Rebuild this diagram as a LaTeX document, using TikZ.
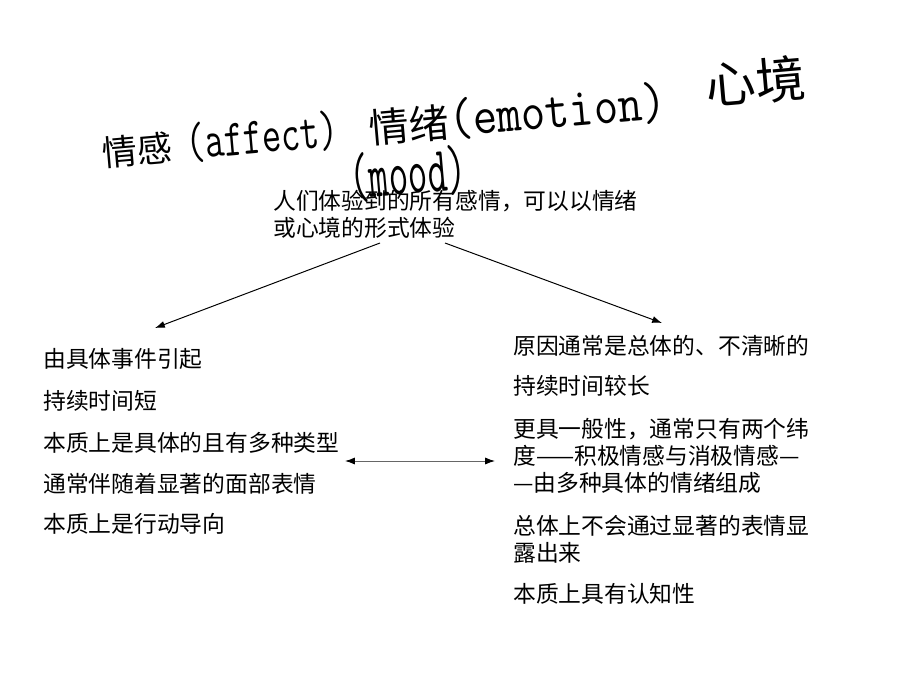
\documentclass[tikz,border=0pt]{standalone}
\usepackage{fontspec}
\setmainfont{Noto Sans CJK SC}
\usepackage{tikz}
\usetikzlibrary{arrows.meta}
\pgfdeclarelayer{bg}
\pgfsetlayers{bg,main}
\newcommand\bodysize{\fontsize{16.2}{19.2}\selectfont}

\begin{document}
\begin{tikzpicture}[x=0.025cm,y=-0.025cm,
        every node/.style={inner sep=0pt,anchor=base west,align=left,font=\bodysize},
        arr/.style={-{Latex[length=7pt,width=5pt]},line width=0.7pt}]
        \useasboundingbox (0,0) rectangle (920,690);
        % title, tilted
        \node (t1) [rotate=5] at (103,167) {\fontsize{24.9}{24.9}\selectfont 情感\hspace{10pt}{\ttfamily\fontsize{26.5}{26.5}\selectfont\scalebox{1}[1.4]{(affect)}}};
        \node (t2) [rotate=5] at (370,144) {\fontsize{28.5}{28.5}\selectfont 情绪{\ttfamily\fontsize{33.5}{33.5}\selectfont\scalebox{1}[1.15]{(emotion)}}};
        \node (t3) [rotate=5] at (707,105) {\fontsize{35.5}{35.5}\selectfont 心境};
        \node (t4) [rotate=5] at (351,199) {\ttfamily\fontsize{27}{27}\selectfont\scalebox{1}[1.7]{(mood)}};
        % common root (base = last line)
        \node (sum) at (273,236) {人们体验到的所有感情，可以以情绪\\或心境的形式体验};
        % emotion side
        \node (e1) at (43,367) {由具体事件引起};
        \node (e2) at (43,409) {持续时间短};
        \node (e3) at (43,451) {本质上是具体的且有多种类型};
        \node (e4) at (43,492) {通常伴随着显著的面部表情};
        \node (e5) at (43,532) {本质上是行动导向};
        % mood side
        \node (m1) at (513,354) {原因通常是总体的、不清晰的};
        \node (m2) at (513,394) {持续时间较长};
        \node (m3) at (513,491) {更具一般性，通常只有两个纬\\度——积极情感与消极情感—\\—由多种具体的情绪组成};
        \node (m4) at (513,561) {总体上不会通过显著的表情显\\露出来};
        \node (m5) at (513,602) {本质上具有认知性};
        \coordinate (sumL) at (380,243);
        \coordinate (sumR) at (445,243);
        \coordinate (emoTip) at (155,328);
        \coordinate (moodTip) at (662,323);
        \coordinate (cmpL) at (345,461);
        \coordinate (cmpR) at (495,461);
        \begin{pgfonlayer}{bg}
                \draw (sumL) edge [arr] (emoTip);
                \draw (sumR) edge [arr] (moodTip);
                \draw (cmpL) edge [line width=0.7pt, draw=black!60,
                        {Latex[length=7pt,width=5pt,color=black]}-{Latex[length=7pt,width=5pt,color=black]}] (cmpR);
        \end{pgfonlayer}
\end{tikzpicture}
\end{document}
